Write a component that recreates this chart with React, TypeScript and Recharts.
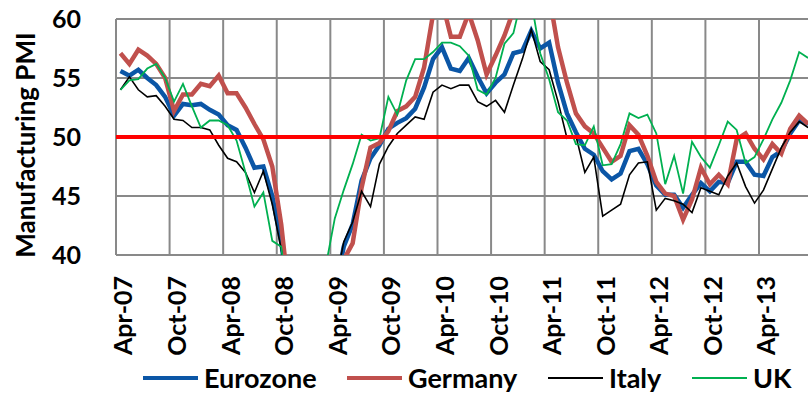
import {
  CartesianGrid,
  Legend,
  Line,
  LineChart,
  ReferenceLine,
  XAxis,
  YAxis,
} from "recharts";

// Monthly manufacturing PMI, Apr-07 .. Sep-13
const MONTHS = [
  "Apr-07", "May-07", "Jun-07", "Jul-07", "Aug-07", "Sep-07", "Oct-07", "Nov-07", "Dec-07",
  "Jan-08", "Feb-08", "Mar-08", "Apr-08", "May-08", "Jun-08", "Jul-08", "Aug-08", "Sep-08",
  "Oct-08", "Nov-08", "Dec-08", "Jan-09", "Feb-09", "Mar-09", "Apr-09", "May-09", "Jun-09",
  "Jul-09", "Aug-09", "Sep-09", "Oct-09", "Nov-09", "Dec-09", "Jan-10", "Feb-10", "Mar-10",
  "Apr-10", "May-10", "Jun-10", "Jul-10", "Aug-10", "Sep-10", "Oct-10", "Nov-10", "Dec-10",
  "Jan-11", "Feb-11", "Mar-11", "Apr-11", "May-11", "Jun-11", "Jul-11", "Aug-11", "Sep-11",
  "Oct-11", "Nov-11", "Dec-11", "Jan-12", "Feb-12", "Mar-12", "Apr-12", "May-12", "Jun-12",
  "Jul-12", "Aug-12", "Sep-12", "Oct-12", "Nov-12", "Dec-12", "Jan-13", "Feb-13", "Mar-13",
  "Apr-13", "May-13", "Jun-13", "Jul-13", "Aug-13", "Sep-13",
];

const EUROZONE = [
  55.6, 55.2, 55.7, 55.0, 54.4, 53.4, 51.8, 52.8, 52.7,
  52.8, 52.3, 51.9, 51.0, 50.6, 49.1, 47.4, 47.5, 45.0,
  41.1, 35.6, 33.9, 34.4, 33.5, 33.9, 36.8, 40.7, 42.6,
  46.3, 48.2, 49.3, 50.7, 51.2, 51.6, 52.4, 54.2, 56.6,
  57.6, 55.8, 55.6, 56.7, 55.1, 53.7, 54.6, 55.3, 57.1,
  57.3, 59.0, 57.5, 58.0, 54.6, 52.0, 50.4, 49.0, 48.5,
  47.1, 46.4, 46.9, 48.8, 49.0, 47.7, 45.9, 45.1, 45.1,
  44.0, 45.1, 46.1, 45.4, 46.2, 46.1, 47.9, 47.9, 46.8,
  46.7, 48.3, 48.8, 50.3, 51.4, 51.1,
];

const GERMANY = [
  57.1, 56.2, 57.4, 56.9, 56.2, 55.0, 52.2, 53.6, 53.6,
  54.5, 54.3, 55.2, 53.7, 53.7, 52.5, 51.1, 49.8, 47.5,
  42.6, 35.7, 32.7, 32.0, 32.1, 32.4, 35.4, 39.6, 41.0,
  45.7, 49.1, 49.5, 50.5, 52.2, 52.6, 53.4, 55.9, 60.4,
  61.5, 58.5, 58.5, 60.5, 58.2, 55.3, 56.9, 58.6, 60.7,
  60.5, 62.7, 60.9, 62.0, 57.6, 54.6, 52.0, 50.9, 50.3,
  49.1, 47.9, 48.4, 51.0, 50.2, 48.4, 46.2, 45.2, 45.0,
  43.0, 44.7, 47.4, 46.0, 46.8, 46.0, 49.8, 50.3, 49.0,
  48.1, 49.4, 48.6, 50.7, 51.8, 51.1,
];

const ITALY = [
  54.0, 55.1, 54.0, 53.4, 53.5, 52.6, 51.5, 51.4, 50.8,
  50.8, 50.6, 49.3, 48.2, 47.9, 47.0, 45.3, 47.1, 44.3,
  40.5, 35.8, 35.0, 34.9, 34.6, 35.5, 37.2, 41.1, 42.8,
  45.4, 44.1, 47.7, 49.2, 50.3, 51.0, 51.7, 51.5, 53.8,
  54.4, 54.1, 54.4, 54.4, 53.0, 52.6, 53.1, 52.1, 54.4,
  56.6, 59.1, 56.4, 55.7, 53.0, 49.9, 50.1, 47.0, 48.3,
  43.3, 43.8, 44.3, 46.8, 47.8, 47.9, 43.8, 44.8, 44.6,
  44.3, 43.6, 45.7, 45.4, 45.1, 46.7, 47.8, 45.8, 44.4,
  45.5, 47.3, 49.1, 50.4, 51.3, 50.8,
];

const UK = [
  54.0, 54.8, 54.9, 55.8, 56.2, 55.0, 53.0, 54.5, 52.6,
  50.8, 51.4, 51.4, 51.0, 49.7, 47.0, 44.1, 45.3, 41.2,
  40.7, 34.9, 35.8, 34.7, 35.8, 39.1, 43.1, 45.5, 47.7,
  50.2, 49.7, 49.9, 53.4, 51.9, 54.8, 56.6, 56.6, 57.2,
  58.0, 58.0, 57.7, 56.9, 54.0, 53.6, 55.0, 57.9, 58.8,
  62.0, 61.5, 57.1, 54.9, 52.1, 51.4, 49.4, 49.3, 50.9,
  47.6, 47.7, 49.4, 52.0, 51.6, 51.9, 50.3, 46.0, 48.4,
  45.2, 49.6, 48.3, 47.4, 49.3, 51.3, 50.6, 47.8, 48.3,
  49.8, 51.5, 52.9, 54.8, 57.2, 56.7,
];

const TICK_LABELS = [
  "Apr-07", "Oct-07", "Apr-08", "Oct-08", "Apr-09", "Oct-09", "Apr-10",
  "Oct-10", "Apr-11", "Oct-11", "Apr-12", "Oct-12", "Apr-13",
];
const Y_TICKS = [40, 45, 50, 55, 60];

const SERIES = [
  { key: "eurozone", name: "Eurozone", color: "#0B56A6", width: 4.5, slot: 204 },
  { key: "germany", name: "Germany", color: "#C0504D", width: 4.5, slot: 201 },
  { key: "italy", name: "Italy", color: "#000000", width: 1.6, slot: 144 },
  { key: "uk", name: "UK", color: "#00B050", width: 1.8, slot: 100 },
];

const data = MONTHS.map((m, i) => ({
  idx: i,
  month: m,
  eurozone: EUROZONE[i],
  germany: GERMANY[i],
  italy: ITALY[i],
  uk: UK[i],
}));

const tickIdx = TICK_LABELS.map((t) => MONTHS.indexOf(t));
// Excel-style category boundaries: gridlines sit between months
const gridX = tickIdx.concat([78]).map((i) => i - 0.5);

const FONT = "Lato, 'Open Sans', sans-serif";
const GRID = "#898989";

function MonthTick(props: any) {
  const { x, y, payload } = props;
  return (
    <text
      x={x + 2}
      y={y}
      transform={`rotate(-90, ${x + 2}, ${y})`}
      textAnchor="end"
      dominantBaseline="central"
      fontFamily={FONT}
      fontWeight={700}
      fontSize={25}
      fill="#000"
    >
      {MONTHS[payload.value]}
    </text>
  );
}

function LegendRow() {
  return (
    <div style={{ display: "flex", alignItems: "center", fontFamily: FONT, fontWeight: 700, fontSize: 27, color: "#000" }}>
      {SERIES.map((s) => (
        <div key={s.key} style={{ display: "flex", alignItems: "center", width: s.slot }}>
          <div style={{ width: 55, height: Math.max(2, Math.round(s.width - 0.5)), background: s.color }} />
          <span style={{ marginLeft: 6, whiteSpace: "nowrap" }}>{s.name}</span>
        </div>
      ))}
    </div>
  );
}

function AxisTitle() {
  return (
    <text
      x={25}
      y={145}
      transform="rotate(-90, 25, 145)"
      textAnchor="middle"
      dominantBaseline="central"
      fontFamily={FONT}
      fontWeight={700}
      fontSize={26}
      fill="#000"
    >
      Manufacturing PMI
    </text>
  );
}

export default function App() {
  return (
    <div style={{ position: "absolute", left: 0, top: 0, width: 808, height: 394, overflow: "hidden", background: "#fff" }}>
      <LineChart
        width={830}
        height={394}
        data={data}
        margin={{ top: 19, right: 8.5, left: 0, bottom: 39 }}
      >
        <CartesianGrid horizontal vertical={false} stroke={GRID} strokeWidth={2} />
        {gridX.map((gx) => (
          <ReferenceLine key={gx} x={gx} stroke={GRID} strokeWidth={2} />
        ))}
        <XAxis
          type="number"
          dataKey="idx"
          domain={[-0.5, 78.5]}
          ticks={tickIdx}
          interval={0}
          tick={<MonthTick />}
          tickLine={false}
          axisLine={false}
          tickMargin={15}
          height={100}
        />
        <YAxis
          type="number"
          domain={[40, 60]}
          ticks={Y_TICKS}
          interval={0}
          allowDataOverflow
          width={116}
          tickLine={false}
          axisLine={false}
          tickMargin={29}
          tick={{ fontFamily: FONT, fontWeight: 700, fontSize: 25, fill: "#000" }}
          label={{ content: () => <AxisTitle /> }}
        />
        {SERIES.map((s) => (
          <Line
            key={s.key}
            type="linear"
            dataKey={s.key}
            name={s.name}
            stroke={s.color}
            strokeWidth={s.width}
            dot={false}
            activeDot={false}
            isAnimationActive={false}
          />
        ))}
        <ReferenceLine y={50} stroke="#FF0000" strokeWidth={4} />
        <Legend
          verticalAlign="middle"
          align="center"
          layout="horizontal"
          wrapperStyle={{ position: "absolute", left: 143, top: 361, width: "auto", height: "auto" }}
          content={() => <LegendRow />}
        />
      </LineChart>
    </div>
  );
}
